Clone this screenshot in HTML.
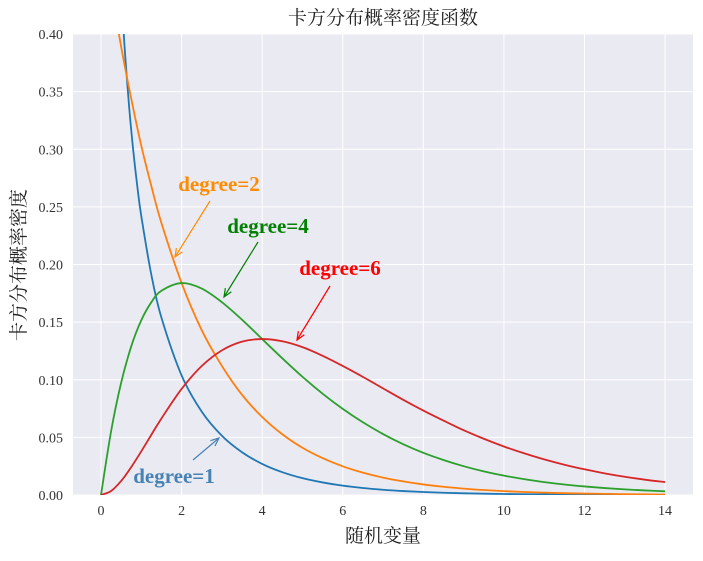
<!DOCTYPE html>
<html><head><meta charset="utf-8"><style>
body{margin:0;background:#fff;width:703px;height:556px;overflow:hidden}
svg text{font-family:"Liberation Serif","Noto Serif CJK SC",serif}
</style></head><body>
<svg id="chart" width="703" height="556" xmlns="http://www.w3.org/2000/svg">
<defs><clipPath id="clip"><rect x="73" y="34" width="620" height="461"/></clipPath></defs>
<rect x="73" y="34" width="620" height="461" fill="#eaeaf2"/>
<g id="grid"></g><g id="ticks"></g>
<g id="lines" clip-path="url(#clip)"></g>
<g id="annots"></g>
<text x="383" y="24" text-anchor="middle" font-size="19" fill="#222">卡方分布概率密度函数</text>
<text x="383" y="542" text-anchor="middle" font-size="19" fill="#222">随机变量</text>
<text transform="translate(25,265) rotate(-90)" text-anchor="middle" font-size="19" fill="#222">卡方分布概率密度</text>
</svg>
<script>
const xs=[0,0.25,0.5,0.75,1,1.25,1.5,2,2.5,3,3.5,4,4.5,5,5.5,6,6.5,7,7.5,8,8.5,9,9.5,10,10.5,11,11.5,12,12.5,13,13.5,14];
const df1x=[0.55,0.6,0.7,0.8,0.9,1,1.25,1.5,2,2.5,3,3.5,4,4.5,5,5.5,6,6.5,7,7.5,8,8.5,9,9.5,10,11,12,13,14];
const df1=[0.4086,0.3815,0.3360,0.2990,0.2681,0.2420,0.1910,0.1539,0.1038,0.0723,0.0514,0.0371,0.0270,0.0198,0.0146,0.0109,0.0081,0.00607,0.00455,0.00342,0.00258,0.00196,0.00148,0.00112,0.00085,0.0005,0.00029,0.00017,0.0001];
const df2=[0.5,0.441,0.389,0.344,0.303,0.268,0.236,0.184,0.143,0.112,0.0869,0.0677,0.0527,0.0410,0.0320,0.0249,0.0194,0.0151,0.0118,0.00916,0.00713,0.00555,0.00432,0.00337,0.00262,0.00204,0.00159,0.00124,0.00097,0.00075,0.00058,0.00046];
const df4=[0,0.0552,0.0974,0.1289,0.1516,0.1673,0.1772,0.1839,0.1791,0.1673,0.1521,0.1353,0.1186,0.1026,0.0879,0.0747,0.0631,0.0529,0.0441,0.0366,0.0304,0.0250,0.0205,0.0168,0.0138,0.0112,0.00914,0.00744,0.00603,0.00488,0.00395,0.00319];
const df6=[0,0.00345,0.01217,0.0242,0.0379,0.0523,0.0664,0.0920,0.1119,0.1255,0.1331,0.1353,0.1334,0.1283,0.1208,0.1120,0.1025,0.0925,0.0826,0.0733,0.0646,0.0562,0.0488,0.0421,0.0362,0.0309,0.0263,0.0223,0.0188,0.0158,0.0133,0.0112];
const xTicks=[0,2,4,6,8,10,12,14];
const yTicks=[0,0.05,0.10,0.15,0.20,0.25,0.30,0.35,0.40];
const X=v=>101+v*40.29, Y=v=>495-v*1152.5;
const NS='http://www.w3.org/2000/svg';
function mk(t,a,p){const e=document.createElementNS(NS,t);for(const k in a)e.setAttribute(k,a[k]);p.appendChild(e);return e;}
const grid=document.getElementById('grid'),ticks=document.getElementById('ticks');
xTicks.forEach(t=>{const l=mk('line',{x1:X(t),x2:X(t),y1:34,y2:495,stroke:'#fff','stroke-width':1},grid);

const tx=mk('text',{x:X(t),y:515,'text-anchor':'middle','font-size':14,fill:'#333'},ticks);tx.textContent=t;
});
yTicks.forEach(t=>{const l=mk('line',{x1:73,x2:693,y1:Y(t),y2:Y(t),stroke:'#fff','stroke-width':1},grid);

const tx=mk('text',{x:63,y:Y(t)+5,'text-anchor':'end','font-size':14,fill:'#333'},ticks);tx.textContent=t.toFixed(2);
});
function path(px,py){const P=px.map((x,i)=>[X(x),Y(py[i])]);let d='M'+P[0][0]+','+P[0][1];
for(let i=0;i<P.length-1;i++){const p0=P[i-1]||P[i],p1=P[i],p2=P[i+1],p3=P[i+2]||p2;
d+=` C${p1[0]+(p2[0]-p0[0])/6},${p1[1]+(p2[1]-p0[1])/6} ${p2[0]-(p3[0]-p1[0])/6},${p2[1]-(p3[1]-p1[1])/6} ${p2[0]},${p2[1]}`;}return d;}
const lines=document.getElementById('lines');
[[df1x,df1,'#1f77b4','line-degree-1'],[xs,df2,'#ff7f0e','line-degree-2'],[xs,df4,'#2ca02c','line-degree-4'],[xs,df6,'#d62728','line-degree-6']].forEach(s=>{
const p=mk('path',{d:path(s[0],s[1]),fill:'none',stroke:s[2],'stroke-width':1.8},lines);
});
const an=document.getElementById('annots');
[['degree=2','#ff8c00',219,191,210,201,175,257],['degree=4','#008000',268,233,258,242,224,297],['degree=6','#ff0000',340,275,330,286,297,340],['degree=1','#4682b4',174,483,193,460,219,438]].forEach(a=>{
const t=mk('text',{x:a[2],y:a[3],'text-anchor':'middle','font-size':21,'font-weight':'bold',fill:a[1]},an);t.textContent=a[0];

const l=mk('line',{x1:a[4],y1:a[5],x2:a[6],y2:a[7],stroke:a[1],'stroke-width':1.2},an);

const ang=Math.atan2(a[7]-a[5],a[6]-a[4]),h=9;
const pts=[[a[6],a[7]],[a[6]-h*Math.cos(ang-0.4),a[7]-h*Math.sin(ang-0.4)],[a[6]-h*Math.cos(ang+0.4),a[7]-h*Math.sin(ang+0.4)]];
const hd=mk('polyline',{points:pts[1].join(',')+' '+pts[0].join(',')+' '+pts[2].join(','),fill:'none',stroke:a[1],'stroke-width':1.2},an);
});
</script>
</body></html>
